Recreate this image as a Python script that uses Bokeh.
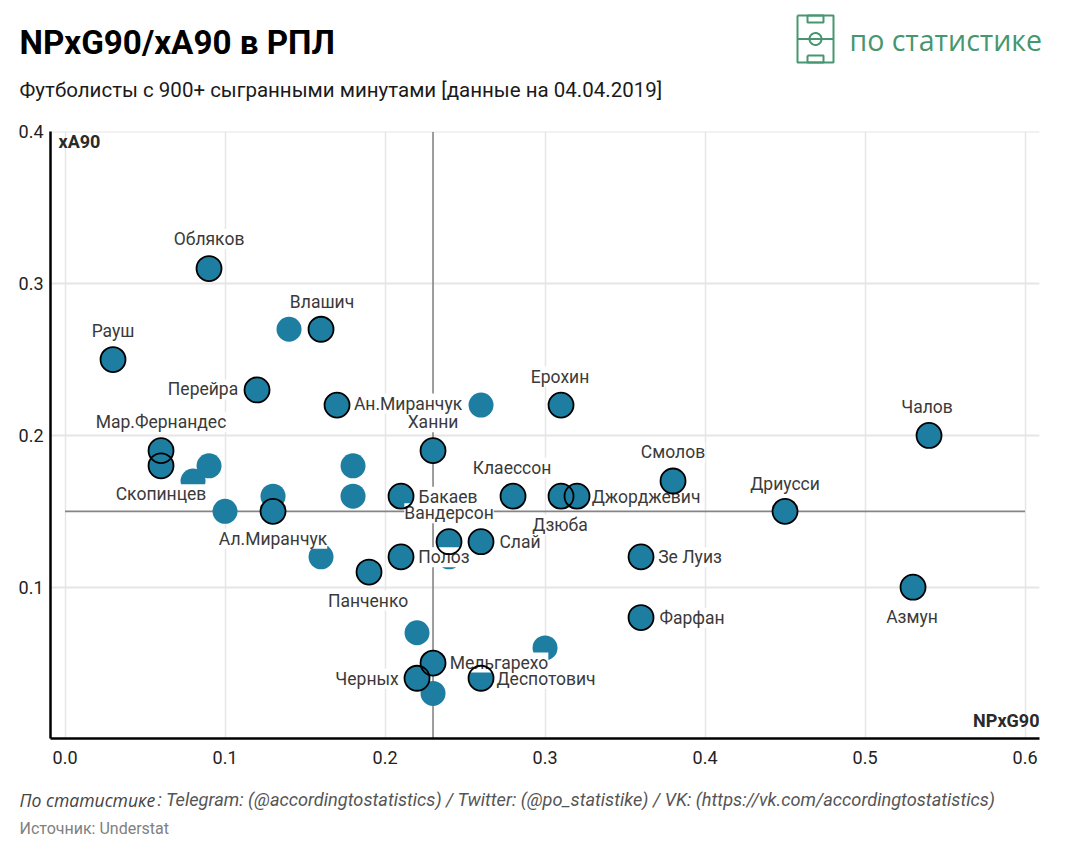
import numpy as np
from bokeh.plotting import figure
from bokeh.layouts import column
from bokeh.models import ColumnDataSource, FixedTicker, Label, NumeralTickFormatter
from bokeh.core.properties import value
from bokeh.embed import file_html
from bokeh.resources import INLINE

names = ["Обляков","Влашич","Рауш","Перейра","Ан.Миранчук","Ерохин","Чалов","Ханни","Мар.Фернандес",
         "Скопинцев","Смолов","Клаессон","Бакаев","Дзюба","Джорджевич","Дриусси","Ал.Миранчук","Вандерсон",
         "Слай","Зе Луиз","Полоз","Панченко","Азмун","Фарфан","Мельгарехо","Черных","Деспотович"]
npxg90 = [.09,.16,.03,.12,.17,.31,.54,.23,.06,.06,.38,.28,.21,.31,.32,.45,.13,.24,.26,.36,.21,.19,.53,.36,.23,.22,.26]
xa90 = [.31,.27,.25,.23,.22,.22,.20,.19,.19,.18,.17,.16,.16,.16,.16,.15,.15,.13,.13,.12,.12,.11,.10,.08,.05,.04,.04]
other_npxg90 = [.14,.26,.18,.09,.08,.13,.18,.10,.16,.24,.22,.30,.23]
other_xa90 = [.27,.22,.18,.18,.17,.16,.16,.15,.12,.12,.07,.06,.03]
x_ticks = [0.0,0.1,0.2,0.3,0.4,0.5,0.6]
y_ticks = [0.1,0.2,0.3,0.4]
x_mean = 0.23
y_mean = 0.15

# label nudges in pixels (layout, not data)
label_dx = [0,1,0,-54,71,-1,-2,0,0,0,0,-1,47,-1,69,0,0,0,39,49,43,-1,-1,51,66,-50,65]
label_dy = [30,28,29,1,2,29,29,29,29,-28,29,29,0,-28,0,28,-27,29,0,0,0,-28,-29,0,1,0,0]
label_box = [0 if n == "Джорджевич" else 1 for n in names]

W, H = 1067, 856
HEAD, FOOT = 120, 785
L, T, R, B = 50, 131, 1039, 738   # frame edges, in picture pixels
x0 = -0.00938 + 0.0003
y0 = 0.0003
p = figure(width=W, height=FOOT - HEAD, output_backend="svg", toolbar_location=None,
           x_range=(x0, x0 + (R - L) / 1600), y_range=(y0, y0 + 0.4), frame_align=False,
           min_border_left=L, min_border_right=W - R, min_border_top=T - HEAD, min_border_bottom=FOOT - B,
           outline_line_color=None, background_fill_color="white")

for ax, ticks in ((p.xaxis, x_ticks), (p.yaxis, y_ticks)):
    ax.ticker = FixedTicker(ticks=ticks)
    ax.formatter = NumeralTickFormatter(format="0.0")
    ax.major_tick_line_color = None
    ax.minor_tick_line_color = None
    ax.axis_line_color = "black"
    ax.axis_line_width = 2.5
    ax.major_label_text_font = "Roboto"
    ax.major_label_text_font_size = "18px"
    ax.major_label_text_color = "#222222"
p.xaxis.major_label_standoff = 6
p.yaxis.major_label_standoff = 1

p.xgrid.ticker = FixedTicker(ticks=x_ticks)
p.ygrid.ticker = FixedTicker(ticks=y_ticks)
p.xgrid.grid_line_color = "#e6e6e6"
p.ygrid.grid_line_color = "#e6e6e6"
p.xgrid.grid_line_width = 1.5
p.ygrid.grid_line_width = 2

p.line([x_mean, x_mean], [0, 0.4], line_color="#858585", line_width=1.6)
p.line([x_ticks[0], x_ticks[-1]], [y_mean, y_mean], line_color="#858585", line_width=1.6)

FILL = "#1d7ea2"
p.scatter(other_npxg90, other_xa90, size=25, fill_color=FILL, line_color=None)
p.scatter(npxg90, xa90, size=25, fill_color=FILL, line_color=None)

src = ColumnDataSource(dict(x=npxg90, y=xa90, t=names, dx=label_dx, dy=[0.5 - d for d in label_dy], box=label_box))
label_style = dict(x_offset="dx", y_offset="dy", source=src, text_align="center", text_baseline="middle",
                   text_font=value("Roboto"), text_font_size="17.5px")
# white boxes first, then the words, so that no box cuts into a neighbouring word
p.text("x", "y", text="t", text_alpha=0, background_fill_color="white", background_fill_alpha="box", **label_style)
p.text("x", "y", text="t", text_color="#3a3a3a", **label_style)
p.scatter(npxg90, xa90, size=25, fill_color=None, line_color="black", line_width=1.8)

def lab(text, x, y, align="left"):
    p.add_layout(Label(x=x - L, y=B - y, x_units="screen", y_units="screen", text=text, text_font="Roboto",
                       text_font_size="18px", text_color="#2a2a2a", text_font_style="bold", text_align=align,
                       text_baseline="alphabetic"))
lab("xA90", 58, 141)
lab("NPxG90", 1039, 720, "right")

def strip(top, bottom):
    f = figure(width=W, height=bottom - top, output_backend="svg", toolbar_location=None,
               x_range=(0, W), y_range=(bottom, top), x_axis_type=None, y_axis_type=None,
               min_border=0, outline_line_color=None, frame_align=False)
    f.xgrid.visible = False
    f.ygrid.visible = False
    return f

def txt(f, s, x, y, size, color, style="normal", font="Roboto"):
    f.text([x], [y], text=[s], text_font=value(font), text_font_size=size, text_color=color,
           text_font_style=style, text_baseline="middle", text_align="left")

head = strip(0, HEAD)
txt(head, "NPxG90/xA90 в РПЛ", 19, 42, "33.2px", "#000000", "bold")
txt(head, "Футболисты с 900+ сыгранными минутами [данные на 04.04.2019]", 19, 89, "20.5px", "#1a1a1a")

GREEN = "#46966f"
txt(head, "по статистике", 849, 39, "28.5px", GREEN, font="Open Sans")
def poly(xs, ys):
    head.line(xs, ys, line_color=GREEN, line_width=2)
def rect(l, t, r, b):
    poly([l, r, r, l, l], [t, t, b, b, t])
rect(797, 15, 833, 62)
poly([797, 833], [38.5, 38.5])
rect(807, 15, 823, 22)
rect(807, 55, 823, 62)
a = np.linspace(0, 2 * np.pi, 40)
poly(815 + 6 * np.cos(a), 38.5 + 6 * np.sin(a))

foot = strip(FOOT, H)
txt(foot, "По статистике", 19, 799, "17.6px", "#444444", "italic", font="Open Sans")
txt(foot, ": Telegram: (@accordingtostatistics) / Twitter: (@po_statistike) / VK: (https://vk.com/accordingtostatistics)", 157, 799, "18.2px", "#555555", "italic")
txt(foot, "Источник: Understat", 19, 828, "16px", "#808080")

page = column(head, p, foot, spacing=0)
open("out.html", "w").write(file_html(page, INLINE))
